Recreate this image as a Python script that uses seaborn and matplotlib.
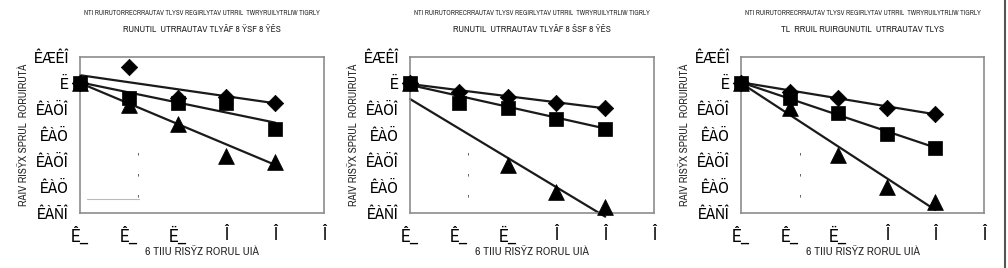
import numpy as np
import pandas as pd
import matplotlib
matplotlib.use("Agg")
import matplotlib.pyplot as plt
from matplotlib import font_manager
import seaborn as sns

sns.set_theme(style="white")

# pick a narrow / condensed family if one is installed
narrow_family = None
narrow_stretch = "normal"
for f in font_manager.fontManager.ttflist:
    if "Narrow" in f.name or "Condensed" in f.name:
        narrow_family = f.name
        break
if narrow_family is None:
    for f in font_manager.fontManager.ttflist:
        if f.name == "DejaVu Sans" and f.stretch in ("condensed", "semi-condensed", 300, 400):
            narrow_family = "DejaVu Sans"
            narrow_stretch = "condensed"
            break
fam = [narrow_family, "DejaVu Sans"] if narrow_family else ["DejaVu Sans"]
plt.rcParams['font.family'] = fam

# ---- data ----
x_vals = [0, 1, 2, 3, 4]
x_tick_pos = [0, 1, 2, 3, 4, 5]
x_tick_labels = ["Ê_", "Ê_", "Ë_", "Î", "Î", "Î"]
y_tick_pos = [-1.0, -0.8, -0.6, -0.4, -0.2, 0.0, 0.2]
y_tick_labels = ["ÊÀÑÎ", "ÊÀÖ", "ÊÀÖÎ", "ÊÀÖ", "ÊÀÖÎ", "Ë", "ÊÆÊÎ"]

series_names = ["diamond", "square", "triangle"]

p1_diamond = [0.0, 0.125, -0.113, -0.105, -0.156]
p1_square = [0.0, -0.113, -0.150, -0.150, -0.354]
p1_triangle = [0.0, -0.170, -0.318, -0.560, -0.605]
p1_fit_start = [0.060, 0.005, 0.000]
p1_fit_end = [-0.156, -0.305, -0.630]

p2_diamond = [0.0, -0.067, -0.105, -0.156, -0.195]
p2_square = [0.0, -0.156, -0.195, -0.277, -0.354]
p2_triangle = [0.0, np.nan, -0.630, -0.836, -0.950]
p2_fit_start = [-0.008, -0.015, -0.123]
p2_fit_end = [-0.195, -0.350, -1.028]

p3_diamond = [0.0, -0.072, -0.113, -0.190, -0.241]
p3_square = [0.0, -0.113, -0.233, -0.395, -0.497]
p3_triangle = [0.0, -0.195, -0.554, -0.797, -0.918]
p3_fit_start = [0.005, 0.005, 0.000]
p3_fit_end = [-0.241, -0.497, -0.977]

title_line1 = "NTI RUIRUTORRECRRAUTAV TLYSV REGIRLYTAV UTRRIL  TWRYRUILYTRLIW TIGRLY"
titles_line2 = ["RUNUTIL  UTRRAUTAV TLYÃF 8 ŸSF 8 ŸÊS",
                "RUNUTIL  UTRRAUTAV TLYÃF 8 ŠSF 8 ŸÊS",
                "TL  RRUIL RUIRGUNUTIL  UTRRAUTAV TLYS"]
y_label = "RAIV RISŸX SPRUL  RORUIRUTÀ"
x_label = "6 TIIU RISŸZ RORUL UIÀ"

panels = [
    (p1_diamond, p1_square, p1_triangle, p1_fit_start, p1_fit_end),
    (p2_diamond, p2_square, p2_triangle, p2_fit_start, p2_fit_end),
    (p3_diamond, p3_square, p3_triangle, p3_fit_start, p3_fit_end),
]

fig = plt.figure(figsize=(10.08, 2.68), dpi=100)
axes_rects = [
    [80 / 1008, 55 / 268, 244 / 1008, 156 / 268],
    [410 / 1008, 55 / 268, 244 / 1008, 156 / 268],
    [741 / 1008, 55 / 268, 243 / 1008, 156 / 268],
]

marker_map = {"diamond": "D", "square": "s", "triangle": "^"}
size_map = {"diamond": 70, "square": 110, "triangle": 130}
spine_col = "#8c8c8c"
tkw = dict(fontstretch=narrow_stretch)

for i, (d, s, t, fs, fe) in enumerate(panels):
    ax = fig.add_axes(axes_rects[i])
    pts = pd.DataFrame({
        "x": x_vals * 3,
        "y": list(d) + list(s) + list(t),
        "series": [n for n in series_names for _ in x_vals],
    })
    fits = pd.DataFrame({
        "x": [x_vals[0], x_vals[-1]] * 3,
        "y": [v for pair in zip(fs, fe) for v in pair],
        "series": [n for n in series_names for _ in range(2)],
    })
    sns.lineplot(data=fits, x="x", y="y", units="series", estimator=None,
                 color="#1a1a1a", linewidth=1.6, ax=ax, legend=False,
                 clip_on=False, zorder=2)
    for name in series_names:
        sub = pts[pts["series"] == name].dropna()
        sns.scatterplot(data=sub, x="x", y="y", marker=marker_map[name],
                        s=size_map[name], color="black", edgecolor="black",
                        linewidth=0.5, ax=ax, legend=False, zorder=3,
                        clip_on=False)
    ax.set_xlim(0, 5)
    ax.set_ylim(-1.0, 0.2)
    ax.set_xticks(x_tick_pos)
    ax.set_xticklabels(x_tick_labels, fontsize=13, **tkw)
    ax.set_yticks(y_tick_pos)
    ax.set_yticklabels(y_tick_labels, fontsize=12, **tkw)
    ax.tick_params(axis="both", direction="out", length=5, width=1,
                   color=spine_col, pad=3, labelcolor="black")
    ax.tick_params(axis="x", pad=5)
    for sp in ax.spines.values():
        sp.set_color(spine_col)
        sp.set_linewidth(1.2)
    ax.set_xlabel(x_label, fontsize=8.5, labelpad=1, **tkw)
    ax.set_ylabel(y_label, fontsize=8, labelpad=3, **tkw)
    ax.text(0.5, 1.0 + 44 / 156, title_line1, transform=ax.transAxes,
            ha="center", va="center", fontsize=5.0, **tkw)
    ax.text(0.5, 1.0 + 27 / 156, titles_line2[i], transform=ax.transAxes,
            ha="center", va="center", fontsize=6.8, **tkw)
    # remnants of a hidden legend
    for yy in [0.37, 0.23, 0.10]:
        ax.text(0.24 if i < 2 else 0.245, yy, "'", transform=ax.transAxes,
                ha="center", va="center", fontsize=6)
    if i == 0:
        ax.plot([0.03, 0.24], [0.09, 0.09], transform=ax.transAxes,
                color="#bbbbbb", linewidth=0.8)

fig.add_artist(plt.Line2D([1005 / 1008, 1005 / 1008], [0, 1],
                          transform=fig.transFigure, color="#555555",
                          linewidth=1.5))

fig.savefig("out.png", dpi=100)
